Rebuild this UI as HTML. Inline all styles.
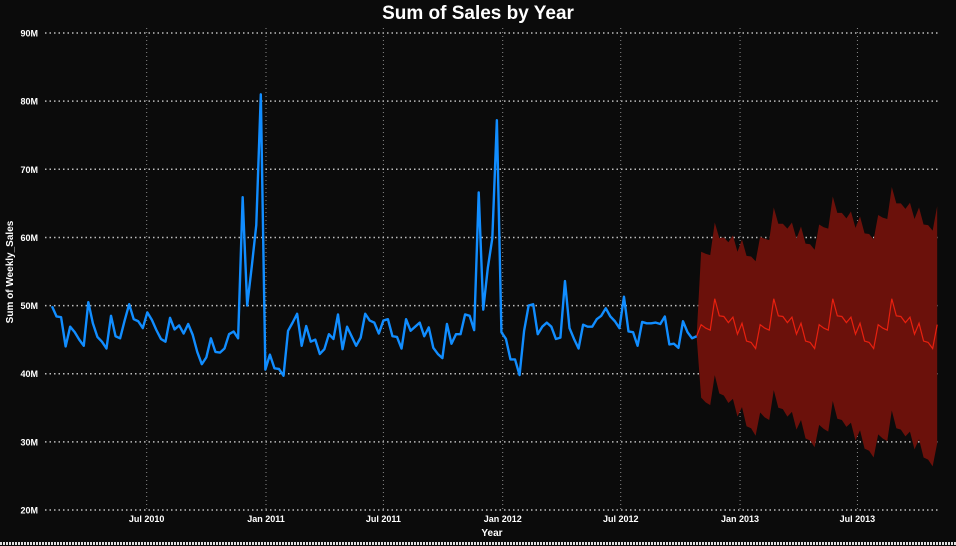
<!DOCTYPE html>
<html><head><meta charset="utf-8"><style>
html,body{margin:0;padding:0;background:#0b0b0b;}
svg{display:block;font-family:"Liberation Sans",sans-serif;}
</style></head><body>
<svg id="chart" width="956" height="546" viewBox="0 0 956 546">
<rect x="0" y="0" width="956" height="546" fill="#0b0b0b"/>
<text x="478" y="19" text-anchor="middle" fill="#ffffff" font-size="19" font-weight="bold">Sum of Sales by Year</text>
<text transform="translate(13,272) rotate(-90)" text-anchor="middle" fill="#ffffff" font-size="10" font-weight="bold">Sum of Weekly_Sales</text>
<text x="492" y="536" text-anchor="middle" fill="#ffffff" font-size="10" font-weight="bold">Year</text>
<line x1="0" y1="543.5" x2="956" y2="543.5" stroke="#e0e0e0" stroke-width="3" stroke-dasharray="2,1"/>
<g id="grid"></g><g id="marks"></g><g id="labels"></g>
</svg>
<script>
const yTicks=[20,30,40,50,60,70,80,90];
const xTickLabels=["Jul 2010","Jan 2011","Jul 2011","Jan 2012","Jul 2012","Jan 2013","Jul 2013"];
const xTickDays=[146,330,511,695,877,1061,1242]; // days since 2010-02-05
const actual=[49.9,48.4,48.3,44.0,46.9,46.1,45.0,44.1,50.5,47.4,45.4,44.7,43.7,48.5,45.5,45.2,47.8,50.2,48.0,47.7,46.7,49.0,47.9,46.4,45.1,44.7,48.2,46.5,47.1,45.9,47.3,45.7,43.2,41.4,42.4,45.2,43.2,43.1,43.7,45.8,46.2,45.2,65.9,50.0,55.7,61.8,81.0,40.6,42.8,40.8,40.7,39.7,46.3,47.5,48.8,44.1,47.0,44.7,45.0,42.9,43.6,45.8,45.1,48.7,43.6,46.9,45.5,44.1,45.3,48.8,47.8,
47.5,45.9,47.8,48.0,45.5,45.4,43.7,48.0,46.3,46.9,47.5,45.5,46.8,43.8,42.9,42.3,47.3,44.4,45.8,45.8,48.7,48.5,46.4,66.6,49.4,55.5,59.9,77.2,46.1,45.1,42.1,42.1,39.8,46.3,50.0,50.2,45.8,46.9,47.5,46.9,45.1,45.3,53.6,46.7,45.1,43.7,47.2,46.9,46.9,48.0,48.5,49.6,48.4,47.7,46.7,51.3,46.2,46.1,44.1,47.6,47.4,47.4,47.5,47.3,48.4,44.3,44.4,43.8,47.7,46.1,45.2,45.5];
const forecast=[45.5,47.2,46.7,46.4,
51.0,48.5,48.4,47.5,48.3,45.8,47.4,44.8,44.6,43.7,47.2,46.7,46.4,
51.0,48.5,48.4,47.5,48.3,45.8,47.4,44.8,44.6,43.7,47.2,46.7,46.4,
51.0,48.5,48.4,47.5,48.3,45.8,47.4,44.8,44.6,43.7,47.2,46.7,46.4,
51.0,48.5,48.4,47.5,48.3,45.8,47.4,44.8,44.6,43.7,47.2];
const bandWidth=[0,10.7,10.9,11.0,11.2,11.4,11.6,11.8,12.0,12.1,12.3,12.5,12.6,12.8,12.9,13.1,13.2,13.4,13.5,13.6,13.8,13.9,14.0,14.2,14.3,14.4,14.5,14.7,14.8,14.9,15.0,15.1,15.2,15.3,15.5,15.6,15.7,15.8,15.9,16.0,16.1,16.2,16.3,16.4,16.5,16.6,16.7,16.8,16.9,17.0,17.1,17.2,17.3,17.4];

const NS="http://www.w3.org/2000/svg";
const X0=52, X1=696.6, Y0=510, PXM=6.814;
const step=(X1-X0)/(actual.length-1);
const dayPx=0.6485;
function yS(v){return Y0-(v-20)*PXM;}
function xIdx(i){return X0+i*step;}
function xDay(d){return X0+d*dayPx;}
function mk(tag,attrs,parent){const e=document.createElementNS(NS,tag);for(const k in attrs)e.setAttribute(k,attrs[k]);parent.appendChild(e);return e;}
const grid=document.getElementById('grid'),marks=document.getElementById('marks'),labels=document.getElementById('labels');
yTicks.forEach(t=>{
  const l=mk('line',{x1:45,x2:940,y1:yS(t),y2:yS(t),stroke:'#bdbdbd','stroke-width':1.5,'stroke-dasharray':'1.5,3'},grid);
  
  
  const tx=mk('text',{x:38,y:yS(t)+3.5,'text-anchor':'end',fill:'#ffffff','font-size':9,'font-weight':'bold'},labels);
  tx.textContent=t+'M';
  
  
});
xTickLabels.forEach((s,i)=>{
  const x=xDay(xTickDays[i]);
  const l=mk('line',{x1:x,x2:x,y1:28,y2:510,stroke:'#8a8a8a','stroke-width':1,'stroke-dasharray':'1,3'},grid);
  
  
  const tx=mk('text',{x:x,y:522,'text-anchor':'middle',fill:'#ffffff','font-size':9,'font-weight':'bold'},labels);
  tx.textContent=s;
  
  
});
// forecast band
const fx=i=>X1+i*step;
let up=[],lo=[];
forecast.forEach((v,i)=>{up.push(fx(i)+','+yS(v+bandWidth[i]));lo.unshift(fx(i)+','+yS(v-bandWidth[i]));});
const band=mk('polygon',{points:up.concat(lo).join(' '),fill:'#6b110b'},marks);


const fl=mk('polyline',{points:forecast.map((v,i)=>fx(i)+','+yS(v)).join(' '),fill:'none',stroke:'#e8200f','stroke-width':1.2},marks);


const al=mk('polyline',{points:actual.map((v,i)=>xIdx(i)+','+yS(v)).join(' '),fill:'none',stroke:'#118dff','stroke-width':2.4,'stroke-linejoin':'round'},marks);


</script>
</body></html>
